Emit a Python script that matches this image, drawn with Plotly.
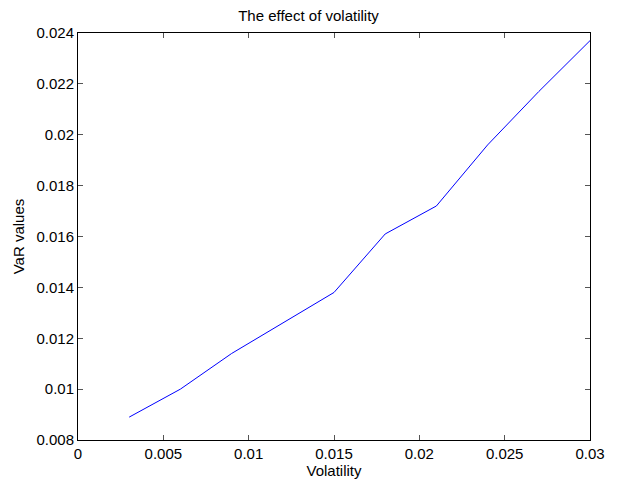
import plotly.graph_objects as go

volatility = [0.003, 0.006, 0.009, 0.012, 0.015, 0.018, 0.021, 0.024, 0.027, 0.030]
var_values = [0.0089, 0.0100, 0.0114, 0.0126, 0.0138, 0.0161, 0.0172, 0.0196, 0.0217, 0.0237]

x_tickvals = [0, 0.005, 0.01, 0.015, 0.02, 0.025, 0.03]
x_ticktext = ["0", "0.005", "0.01", "0.015", "0.02", "0.025", "0.03"]
y_tickvals = [0.008, 0.01, 0.012, 0.014, 0.016, 0.018, 0.02, 0.022, 0.024]
y_ticktext = ["0.008", "0.01", "0.012", "0.014", "0.016", "0.018", "0.02", "0.022", "0.024"]

fig = go.Figure()
fig.add_trace(go.Scatter(x=volatility, y=var_values, mode="lines",
                         line=dict(color="#0000ff", width=1), showlegend=False))

font = dict(family="Liberation Sans, Arial, sans-serif", size=15, color="black")
axis_common = dict(showgrid=False, zeroline=False, showline=True, linecolor="black",
                   linewidth=1, mirror="ticks", ticks="inside", ticklen=5,
                   tickcolor="#555555", tickwidth=1, tickfont=font)

fig.update_layout(
    width=617, height=487,
    margin=dict(l=78, r=17, t=33, b=44),
    paper_bgcolor="white", plot_bgcolor="white",
    font=font,
    title=dict(text="The effect of volatility", x=0.5, xanchor="center",
               y=1 - 16 / 487, yanchor="middle", font=font),
    xaxis=dict(range=[0, 0.03], tickvals=x_tickvals, ticktext=x_ticktext,
               title=dict(text="Volatility", standoff=2, font=font), **axis_common),
    yaxis=dict(range=[0.008, 0.024], tickvals=y_tickvals, ticktext=y_ticktext,
               title=dict(text="VaR values", standoff=8, font=font), **axis_common),
)

fig.write_html("out.html")
